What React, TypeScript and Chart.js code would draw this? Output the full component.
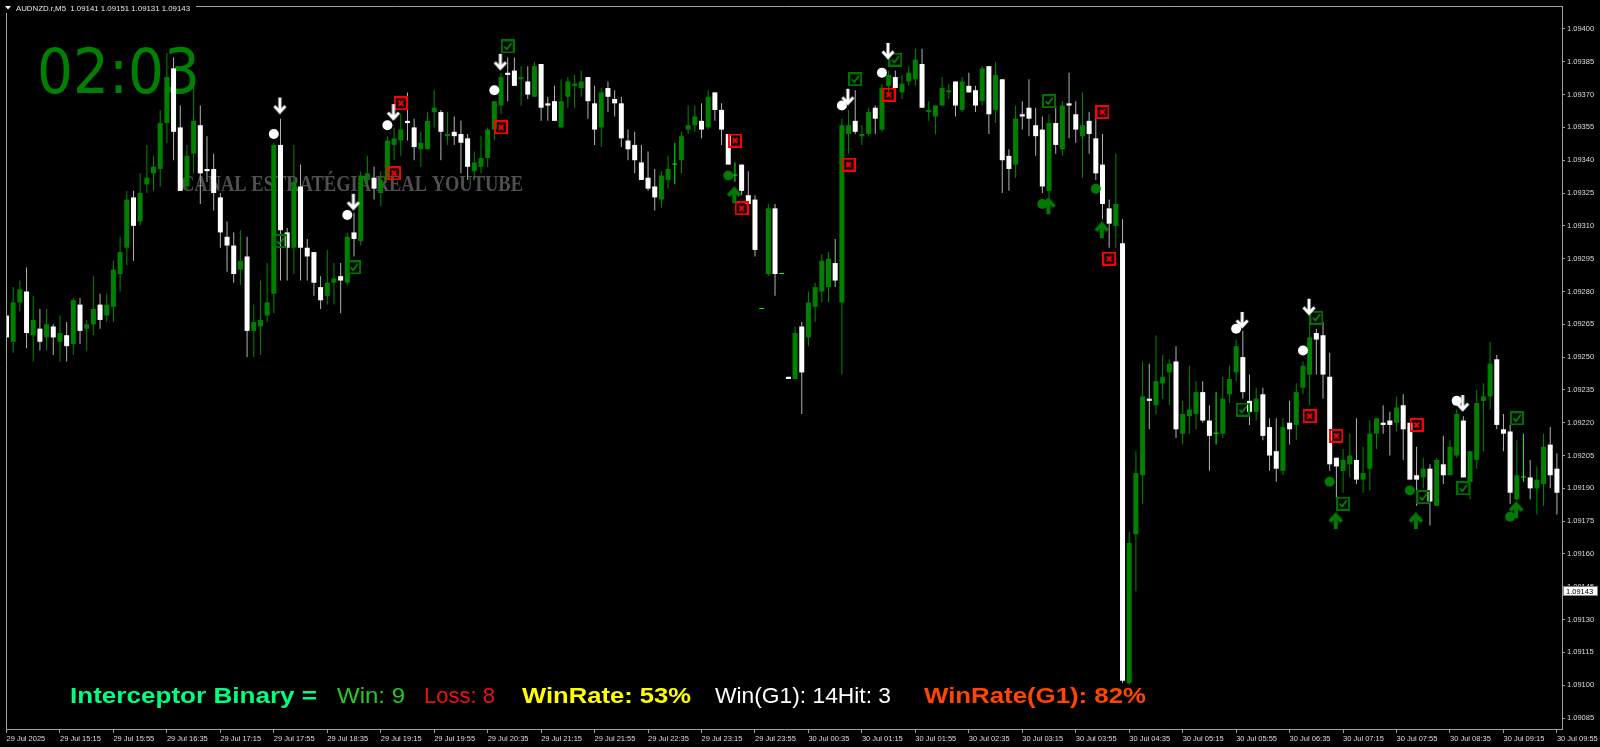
import React, { useEffect, useRef } from "react";
import { Chart, registerables } from "chart.js";

Chart.register(...registerables);

const FONT = "'Liberation Sans', Arial, sans-serif";

const headerText = "AUDNZD.r,M5  1.09141 1.09151 1.09131 1.09143";
const currentPrice = 1.09143;
const clockText = "02:03";
const watermarkText = "CANAL ESTRATÉGIA REAL YOUTUBE";
const statsTexts = ["Interceptor Binary =", "Win: 9", "Loss: 8", "WinRate: 53%", "Win(G1): 14Hit: 3", "WinRate(G1): 82%"];

const opens = [
1.09269,1.09257,1.09275,1.09280,1.09260,1.09263,1.09259,1.09264,1.09257,1.09260,
1.09256,1.09274,1.09263,1.09265,1.09274,1.09269,1.09273,1.09288,1.09300,1.09323,
1.09312,1.09329,1.09334,1.09336,1.09357,1.09382,1.09355,1.09328,1.09343,1.09356,
1.09336,1.09336,1.09323,1.09305,1.09301,1.09290,1.09296,1.09262,1.09264,1.09269,
1.09279,1.09347,1.09307,1.09300,1.09328,1.09300,1.09298,1.09282,1.09278,1.09284,
1.09287,1.09284,1.09307,1.09303,1.09331,1.09332,1.09325,1.09331,1.09347,1.09349,
1.09358,1.09355,1.09345,1.09345,1.09362,1.09362,1.09351,1.09353,1.09352,1.09350,
1.09335,1.09337,1.09341,1.09354,1.09365,1.09380,1.09381,1.09377,1.09376,1.09369,
1.09384,1.09366,1.09367,1.09355,1.09369,1.09374,1.09373,1.09378,1.09366,1.09355,
1.09373,1.09368,1.09366,1.09349,1.09347,1.09339,1.09332,1.09328,1.09322,1.09331,
1.09338,1.09340,1.09354,1.09356,1.09358,1.09355,1.09371,1.09363,1.09352,1.09333,
1.09338,1.09324,1.09322,1.09272,1.09288,1.09318,1.09288,1.09241,1.09240,1.09264,
1.09259,1.09273,1.09280,1.09282,1.09293,1.09275,1.09352,1.09358,1.09351,1.09352,
1.09364,1.09354,1.09374,1.09378,1.09371,1.09376,1.09377,1.09384,1.09362,1.09360,
1.09365,1.09371,1.09376,1.09363,1.09374,1.09372,1.09367,1.09383,1.09363,1.09377,
1.09342,1.09338,1.09361,1.09364,1.09356,1.09354,1.09326,1.09357,1.09345,1.09366,
1.09361,1.09351,1.09358,1.09350,1.09338,1.09318,1.09310,1.09302,1.09101,1.09169,
1.09196,1.09231,1.09228,1.09238,1.09243,1.09248,1.09215,1.09223,1.09224,1.09234,
1.09221,1.09215,1.09215,1.09233,1.09243,1.09250,1.09230,1.09225,1.09233,1.09218,
1.09207,1.09198,1.09220,1.09219,1.09236,1.09242,1.09261,1.09260,1.09241,1.09204,
1.09198,1.09201,1.09203,1.09194,1.09199,1.09215,1.09220,1.09221,1.09220,1.09228,
1.09220,1.09196,1.09195,1.09199,1.09182,1.09201,1.09196,1.09205,1.09221,1.09193,
1.09203,1.09230,1.09232,1.09249,1.09217,1.09216,1.09185,1.09195,1.09195,1.09190,
1.09192,1.09210,1.09199];

const highs = [
1.09273,1.09282,1.09285,1.09291,1.09278,1.09272,1.09272,1.09265,1.09269,1.09266,
1.09277,1.09277,1.09267,1.09287,1.09279,1.09279,1.09294,1.09305,1.09326,1.09326,
1.09334,1.09347,1.09342,1.09363,1.09389,1.09387,1.09365,1.09347,1.09377,1.09365,
1.09351,1.09343,1.09325,1.09312,1.09307,1.09308,1.09305,1.09274,1.09285,1.09293,
1.09348,1.09359,1.09309,1.09347,1.09338,1.09304,1.09298,1.09287,1.09299,1.09293,
1.09293,1.09307,1.09316,1.09335,1.09342,1.09337,1.09335,1.09351,1.09355,1.09361,
1.09371,1.09359,1.09353,1.09362,1.09372,1.09363,1.09362,1.09360,1.09358,1.09352,
1.09344,1.09351,1.09355,1.09367,1.09380,1.09387,1.09387,1.09383,1.09383,1.09385,
1.09384,1.09369,1.09374,1.09377,1.09378,1.09379,1.09381,1.09378,1.09374,1.09373,
1.09376,1.09372,1.09369,1.09354,1.09353,1.09347,1.09344,1.09336,1.09335,1.09342,
1.09348,1.09353,1.09365,1.09365,1.09366,1.09372,1.09371,1.09366,1.09352,1.09339,
1.09338,1.09335,1.09324,1.09272,1.09320,1.09320,1.09288,1.09241,1.09264,1.09266,
1.09280,1.09284,1.09297,1.09298,1.09304,1.09359,1.09363,1.09372,1.09356,1.09364,
1.09365,1.09375,1.09381,1.09381,1.09379,1.09383,1.09391,1.09391,1.09367,1.09365,
1.09378,1.09375,1.09376,1.09378,1.09380,1.09374,1.09383,1.09383,1.09385,1.09377,
1.09345,1.09365,1.09367,1.09377,1.09364,1.09360,1.09361,1.09365,1.09367,1.09380,
1.09367,1.09371,1.09362,1.09359,1.09352,1.09322,1.09343,1.09313,1.09170,1.09207,
1.09248,1.09247,1.09260,1.09251,1.09249,1.09255,1.09230,1.09246,1.09239,1.09239,
1.09228,1.09234,1.09241,1.09246,1.09258,1.09262,1.09242,1.09236,1.09236,1.09222,
1.09222,1.09222,1.09230,1.09238,1.09248,1.09265,1.09263,1.09266,1.09252,1.09204,
1.09208,1.09215,1.09222,1.09209,1.09221,1.09222,1.09228,1.09225,1.09232,1.09233,
1.09220,1.09209,1.09204,1.09201,1.09204,1.09214,1.09212,1.09226,1.09223,1.09207,
1.09235,1.09238,1.09257,1.09251,1.09224,1.09219,1.09212,1.09215,1.09203,1.09200,
1.09215,1.09218,1.09206];

const lows = [
1.09255,1.09252,1.09271,1.09254,1.09248,1.09253,1.09253,1.09251,1.09248,1.09248,
1.09251,1.09256,1.09253,1.09260,1.09263,1.09266,1.09266,1.09280,1.09292,1.09294,
1.09310,1.09325,1.09326,1.09328,1.09348,1.09340,1.09326,1.09326,1.09334,1.09320,
1.09330,1.09317,1.09300,1.09289,1.09284,1.09283,1.09250,1.09250,1.09251,1.09266,
1.09270,1.09285,1.09285,1.09288,1.09285,1.09285,1.09278,1.09272,1.09274,1.09274,
1.09270,1.09283,1.09296,1.09301,1.09328,1.09322,1.09319,1.09331,1.09340,1.09342,
1.09349,1.09340,1.09337,1.09345,1.09355,1.09340,1.09347,1.09347,1.09334,1.09331,
1.09331,1.09334,1.09337,1.09349,1.09361,1.09367,1.09374,1.09365,1.09368,1.09369,
1.09358,1.09358,1.09358,1.09355,1.09364,1.09364,1.09369,1.09359,1.09347,1.09346,
1.09362,1.09360,1.09346,1.09340,1.09334,1.09331,1.09326,1.09317,1.09318,1.09327,
1.09329,1.09334,1.09352,1.09353,1.09350,1.09354,1.09358,1.09347,1.09338,1.09330,
1.09324,1.09316,1.09296,1.09272,1.09287,1.09278,1.09288,1.09240,1.09240,1.09224,
1.09255,1.09266,1.09275,1.09275,1.09282,1.09242,1.09343,1.09352,1.09347,1.09351,
1.09352,1.09353,1.09371,1.09373,1.09368,1.09374,1.09374,1.09364,1.09358,1.09352,
1.09365,1.09368,1.09360,1.09362,1.09371,1.09362,1.09365,1.09352,1.09357,1.09325,
1.09326,1.09332,1.09354,1.09351,1.09342,1.09325,1.09323,1.09343,1.09342,1.09350,
1.09348,1.09332,1.09343,1.09331,1.09313,1.09300,1.09300,1.09101,1.09100,1.09143,
1.09183,1.09217,1.09224,1.09231,1.09228,1.09213,1.09210,1.09215,1.09217,1.09220,
1.09198,1.09210,1.09213,1.09229,1.09239,1.09231,1.09219,1.09221,1.09212,1.09198,
1.09193,1.09196,1.09210,1.09212,1.09233,1.09228,1.09242,1.09231,1.09198,1.09185,
1.09188,1.09195,1.09192,1.09188,1.09189,1.09208,1.09215,1.09205,1.09216,1.09203,
1.09194,1.09182,1.09190,1.09173,1.09182,1.09192,1.09196,1.09204,1.09195,1.09185,
1.09199,1.09207,1.09226,1.09217,1.09207,1.09183,1.09184,1.09193,1.09185,1.09178,
1.09182,1.09190,1.09178];

const closes = [
1.09259,1.09275,1.09281,1.09261,1.09267,1.09257,1.09265,1.09259,1.09261,1.09255,
1.09276,1.09262,1.09265,1.09272,1.09267,1.09274,1.09290,1.09298,1.09322,1.09310,
1.09325,1.09332,1.09337,1.09357,1.09378,1.09353,1.09326,1.09342,1.09358,1.09334,
1.09335,1.09325,1.09307,1.09301,1.09288,1.09294,1.09262,1.09266,1.09267,1.09275,
1.09347,1.09308,1.09300,1.09330,1.09300,1.09296,1.09284,1.09276,1.09284,1.09286,
1.09285,1.09305,1.09304,1.09333,1.09334,1.09327,1.09331,1.09349,1.09350,1.09354,
1.09357,1.09346,1.09348,1.09358,1.09364,1.09353,1.09352,1.09351,1.09348,1.09337,
1.09339,1.09341,1.09354,1.09367,1.09378,1.09379,1.09374,1.09378,1.09370,1.09383,
1.09364,1.09365,1.09358,1.09367,1.09376,1.09375,1.09376,1.09367,1.09354,1.09371,
1.09369,1.09366,1.09350,1.09345,1.09340,1.09331,1.09327,1.09323,1.09333,1.09336,
1.09338,1.09351,1.09356,1.09360,1.09354,1.09369,1.09363,1.09354,1.09338,1.09333,
1.09326,1.09320,1.09299,1.09272,1.09318,1.09288,1.09288,1.09240,1.09261,1.09243,
1.09275,1.09282,1.09294,1.09295,1.09285,1.09356,1.09356,1.09353,1.09352,1.09362,
1.09359,1.09373,1.09379,1.09373,1.09375,1.09380,1.09386,1.09364,1.09363,1.09365,
1.09373,1.09372,1.09365,1.09376,1.09371,1.09365,1.09382,1.09361,1.09379,1.09340,
1.09336,1.09359,1.09360,1.09359,1.09351,1.09328,1.09357,1.09347,1.09365,1.09365,
1.09354,1.09356,1.09352,1.09334,1.09320,1.09311,1.09320,1.09102,1.09165,1.09197,
1.09232,1.09230,1.09239,1.09241,1.09247,1.09217,1.09224,1.09226,1.09234,1.09221,
1.09214,1.09215,1.09231,1.09240,1.09255,1.09234,1.09225,1.09231,1.09214,1.09205,
1.09199,1.09218,1.09217,1.09234,1.09246,1.09259,1.09258,1.09242,1.09201,1.09200,
1.09203,1.09205,1.09194,1.09197,1.09215,1.09222,1.09219,1.09219,1.09227,1.09217,
1.09194,1.09194,1.09199,1.09184,1.09203,1.09196,1.09209,1.09224,1.09195,1.09207,
1.09229,1.09232,1.09247,1.09219,1.09215,1.09188,1.09196,1.09195,1.09190,1.09194,
1.09209,1.09196,1.09188];

const timeTickBars = [0,8,16,24,32,40,48,56,64,72,80,88,96,104,112,120,128,136,144,152,160,168,176,184,192,200,208,216,224,232];
const timeLabels = ["29 Jul 2025","29 Jul 15:15","29 Jul 15:55","29 Jul 16:35","29 Jul 17:15","29 Jul 17:55","29 Jul 18:35","29 Jul 19:15","29 Jul 19:55","29 Jul 20:35","29 Jul 21:15","29 Jul 21:55","29 Jul 22:35","29 Jul 23:15","29 Jul 23:55","30 Jul 00:35","30 Jul 01:15","30 Jul 01:55","30 Jul 02:35","30 Jul 03:15","30 Jul 03:55","30 Jul 04:35","30 Jul 05:15","30 Jul 05:55","30 Jul 06:35","30 Jul 07:15","30 Jul 07:55","30 Jul 08:35","30 Jul 09:15","30 Jul 09:55"];
const priceTicks = [1.09085,1.09100,1.09115,1.09130,1.09145,1.09160,1.09175,1.09190,1.09205,1.09220,1.09235,1.09250,1.09265,1.09280,1.09295,1.09310,1.09325,1.09340,1.09355,1.09370,1.09385,1.09400];

const sellBars = [40, 51, 57, 73, 125, 131, 184, 194, 217];
const sellDotPrices = [1.09352, 1.09315, 1.09356, 1.09372, 1.09365, 1.09380, 1.09263, 1.09253, 1.09230];
const sellArrowPrices = [1.09365, 1.09321, 1.09362, 1.09385, 1.09369, 1.09390, 1.09267, 1.09273, 1.09229];

const buyBars = [108, 155, 163, 198, 210, 225];
const buyDotPrices = [1.09333, 1.09320, 1.09327, 1.09193, 1.09189, 1.09177];
const buyArrowPrices = [1.09324, 1.09319, 1.09308, 1.09175, 1.09175, 1.09180];

const winBars = [41, 52, 75, 127, 133, 156, 185, 196, 200, 212, 218, 226];
const winPrices = [1.09303, 1.09291, 1.09392, 1.09377, 1.09386, 1.09367, 1.09226, 1.09268, 1.09183, 1.09186, 1.09190, 1.09222];

const lossBars = [58, 59, 74, 109, 110, 126, 132, 164, 165, 195, 199, 211];
const lossPrices = [1.09334, 1.09366, 1.09355, 1.09349, 1.09318, 1.09338, 1.09370, 1.09362, 1.09295, 1.09223, 1.09214, 1.09219];

function makeIcon(w: number, h: number, draw: (c: CanvasRenderingContext2D) => void) {
  const cv = document.createElement("canvas");
  cv.width = w;
  cv.height = h;
  const c = cv.getContext("2d")!;
  draw(c);
  return cv;
}

function fitText(ctx: CanvasRenderingContext2D, text: string, x: number, baseline: number, width: number, font: string, color: string) {
  ctx.save();
  ctx.font = font;
  const w = ctx.measureText(text).width;
  ctx.translate(x, baseline);
  ctx.scale(width / w, 1);
  ctx.fillStyle = color;
  ctx.textAlign = "left";
  ctx.textBaseline = "alphabetic";
  ctx.fillText(text, 0, 0);
  ctx.restore();
}

export default function App() {
  const ref = useRef<HTMLCanvasElement>(null);

  useEffect(() => {
    document.body.style.margin = "0";
    document.body.style.background = "#000";

    const sellArrowIcon = makeIcon(28, 18, (c) => {
      c.strokeStyle = "#ffffff";
      c.lineWidth = 3;
      c.lineJoin = "miter";
      c.beginPath(); c.moveTo(20, 1); c.lineTo(20, 15); c.stroke();
      c.beginPath(); c.moveTo(14.5, 9.5); c.lineTo(20, 15.5); c.lineTo(25.5, 9.5); c.stroke();
    });
    const buyArrowIcon = makeIcon(28, 18, (c) => {
      c.strokeStyle = "#007a00";
      c.lineWidth = 4;
      c.lineJoin = "miter";
      c.beginPath(); c.moveTo(20, 17); c.lineTo(20, 4); c.stroke();
      c.beginPath(); c.moveTo(14, 9.5); c.lineTo(20, 3); c.lineTo(26, 9.5); c.stroke();
    });
    const winIcon = makeIcon(14, 14, (c) => {
      c.strokeStyle = "#007000";
      c.lineWidth = 2;
      c.strokeRect(1, 1, 12, 12);
      c.strokeStyle = "#009a00";
      c.lineWidth = 1.6;
      c.beginPath(); c.moveTo(3.5, 7); c.lineTo(6, 9.8); c.lineTo(10.8, 3.5); c.stroke();
    });
    const lossIcon = makeIcon(14, 14, (c) => {
      c.strokeStyle = "#ff0000";
      c.lineWidth = 2;
      c.strokeRect(1, 1, 12, 12);
      c.beginPath(); c.moveTo(4.5, 4.5); c.lineTo(9.5, 9.5); c.moveTo(9.5, 4.5); c.lineTo(4.5, 9.5); c.stroke();
    });

    const idx = opens.map((_, i) => i);
    const bullIdx = idx.filter((i) => closes[i] > opens[i]);
    const bearIdx = idx.filter((i) => closes[i] < opens[i]);
    const dojiIdx = idx.filter((i) => closes[i] === opens[i]);
    const wick = (ids: number[]) => ids.map((i) => ({ x: i, y: [lows[i], highs[i]] }));
    const body = (ids: number[]) => ids.map((i) => ({ x: i, y: [opens[i], closes[i]] }));
    const pts = (bars: number[], prices: number[]) => bars.map((b, k) => ({ x: b, y: prices[k] }));

    const barBase = { type: "bar" as const, grouped: false, borderWidth: 0, inflateAmount: 0 };
    const markerBase = { type: "scatter" as const, showLine: false, pointBorderWidth: 0, pointHoverRadius: 0, order: 0 };

    const overlay = {
      id: "overlay",
      beforeDraw(chart: any) {
        const { ctx, width, height } = chart;
        ctx.save();
        ctx.fillStyle = "#000";
        ctx.fillRect(0, 0, width, height);
        ctx.restore();
      },
      beforeDatasetsDraw(chart: any) {
        const ctx = chart.ctx as CanvasRenderingContext2D;
        fitText(ctx, clockText, 37, 93, 163, "62px 'DejaVu Sans'", "#008000");
        fitText(ctx, watermarkText, 181, 191, 342, "bold 24px 'Liberation Serif'", "#505050");
        const xs = [70, 337, 424, 522, 715, 924];
        const ws = [247, 68, 71, 169, 176, 222];
        const bold = [true, false, false, true, false, true];
        const colors = ["#00ff7f", "#22cc22", "#ee1111", "#ffff00", "#ffffff", "#ff4500"];
        statsTexts.forEach((t, k) => {
          fitText(ctx, t, xs[k], 703, ws[k], `${bold[k] ? "bold " : ""}22px ${FONT}`, colors[k]);
        });
      },
      afterDatasetsDraw(chart: any) {
        const ctx = chart.ctx as CanvasRenderingContext2D;
        const a = chart.chartArea;
        ctx.save();
        ctx.strokeStyle = "#a0a0a0";
        ctx.lineWidth = 1;
        ctx.beginPath();
        ctx.moveTo(a.left + 0.5, a.bottom);
        ctx.lineTo(a.left + 0.5, a.top + 0.5);
        ctx.lineTo(a.right, a.top + 0.5);
        ctx.stroke();
        ctx.fillStyle = "#000";
        ctx.fillRect(0, 0, 196, 13);
        ctx.fillStyle = "#ffffff";
        ctx.beginPath();
        ctx.moveTo(5, 6); ctx.lineTo(11, 6); ctx.lineTo(8, 9.5); ctx.closePath(); ctx.fill();
        ctx.restore();
        fitText(ctx, headerText, 16, 11, 174, `8px ${FONT}`, "#e8e8e8");
      },
      afterDraw(chart: any) {
        const ctx = chart.ctx as CanvasRenderingContext2D;
        const y = chart.scales.y.getPixelForValue(currentPrice);
        ctx.save();
        ctx.fillStyle = "#ffffff";
        ctx.fillRect(1563, Math.round(y) - 5, 35, 10);
        ctx.strokeStyle = "#808080";
        ctx.lineWidth = 1;
        ctx.strokeRect(1563.5, Math.round(y) - 4.5, 34, 9);
        ctx.fillStyle = "#000";
        ctx.font = `7.5px ${FONT}`;
        ctx.textBaseline = "middle";
        ctx.textAlign = "left";
        ctx.fillText(currentPrice.toFixed(5), 1566, Math.round(y) + 0.5);
        ctx.restore();
      },
    };

    const chart = new Chart(ref.current!, {
      type: "bar",
      data: {
        datasets: [
          { ...barBase, label: "bull wick", data: wick(bullIdx), backgroundColor: "#008a00", barThickness: 1, order: 5 },
          { ...barBase, label: "bear wick", data: wick(bearIdx), backgroundColor: "#b4b4b4", barThickness: 1, order: 5 },
          { ...barBase, label: "doji wick", data: wick(dojiIdx), backgroundColor: "#00ff00", barThickness: 1, order: 5 },
          { ...barBase, label: "bull body", data: body(bullIdx), backgroundColor: "#008000", barThickness: 5, order: 4 },
          { ...barBase, label: "bear body", data: body(bearIdx), backgroundColor: "#ffffff", barThickness: 5, order: 4 },
          { ...barBase, label: "doji body", data: body(dojiIdx), backgroundColor: "#00ff00", barThickness: 5, minBarLength: 1, order: 4 },
          { ...markerBase, label: "sell dot", data: pts(sellBars, sellDotPrices), pointStyle: "circle", pointRadius: 5, pointBackgroundColor: "#ffffff", backgroundColor: "#ffffff" },
          { ...markerBase, label: "sell arrow", data: pts(sellBars, sellArrowPrices), pointStyle: sellArrowIcon, pointRadius: 6 },
          { ...markerBase, label: "buy dot", data: pts(buyBars, buyDotPrices), pointStyle: "circle", pointRadius: 5, pointBackgroundColor: "#007a00", backgroundColor: "#007a00" },
          { ...markerBase, label: "buy arrow", data: pts(buyBars, buyArrowPrices), pointStyle: buyArrowIcon, pointRadius: 6 },
          { ...markerBase, label: "win", data: pts(winBars, winPrices), pointStyle: winIcon, pointRadius: 6 },
          { ...markerBase, label: "loss", data: pts(lossBars, lossPrices), pointStyle: lossIcon, pointRadius: 6 },
        ] as any,
      },
      options: {
        responsive: false,
        animation: false,
        devicePixelRatio: 1,
        events: [],
        layout: { padding: { left: 2, top: 2, right: 0, bottom: 0 } },
        plugins: { legend: { display: false }, tooltip: { enabled: false } },
        scales: {
          x: {
            type: "linear",
            position: "bottom",
            min: -0.0746,
            max: 232.76,
            offset: false,
            bounds: "data",
            afterBuildTicks: (s: any) => { s.ticks = timeTickBars.map((v) => ({ value: v })); },
            afterFit: (s: any) => { s.height = 18; s.paddingLeft = 0; s.paddingRight = 0; },
            ticks: {
              autoSkip: false, maxRotation: 0, minRotation: 0, align: "start",
              color: "#dcdcdc", font: { size: 7.5, family: FONT }, padding: 1,
              callback: (_v: any, i: number) => timeLabels[i],
            },
            grid: { display: true, drawOnChartArea: false, drawTicks: true, tickLength: 4, color: "#a0a0a0", offset: false },
            border: { display: true, color: "#a0a0a0" },
          },
          y: {
            type: "linear",
            position: "right",
            min: 1.0908,
            max: 1.094105,
            bounds: "data",
            afterBuildTicks: (s: any) => { s.ticks = priceTicks.map((v) => ({ value: v })); },
            afterFit: (s: any) => { s.width = 38; s.paddingTop = 0; s.paddingBottom = 0; },
            ticks: {
              color: "#dcdcdc", font: { size: 7.5, family: FONT }, padding: 2,
              callback: (v: any) => Number(v).toFixed(5),
            },
            grid: { display: true, drawOnChartArea: false, drawTicks: true, tickLength: 3, color: "#a0a0a0" },
            border: { display: true, color: "#a0a0a0" },
          },
        },
      } as any,
      plugins: [overlay],
    });
    return () => chart.destroy();
  }, []);

  return (
    <div style={{ position: "fixed", left: 0, top: 0, width: 1600, height: 747, background: "#000" }}>
      <canvas ref={ref} width={1600} height={747} style={{ display: "block", width: 1600, height: 747 }} />
    </div>
  );
}
